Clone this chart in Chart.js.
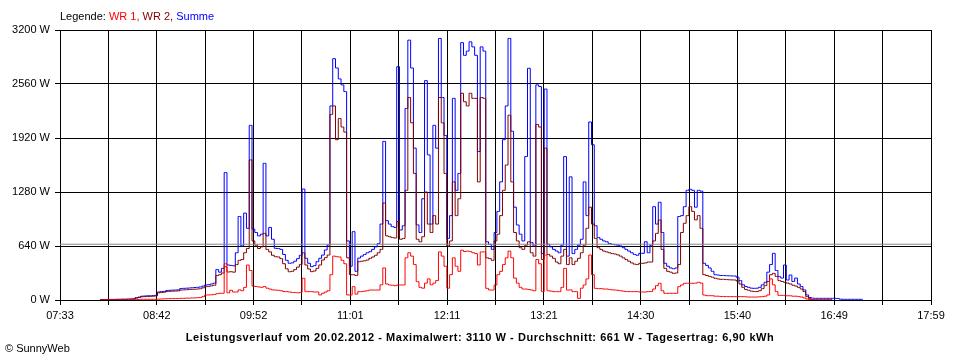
<!DOCTYPE html>
<html>
<head>
<meta charset="utf-8">
<script src="https://cdn.jsdelivr.net/npm/chart.js@4.4.1/dist/chart.umd.min.js"></script>
<style>
  body { margin: 0; background: #fff; }
  #wrap { position: relative; width: 960px; height: 360px; font-family: "Liberation Sans", Arial, sans-serif; font-size: 11px; line-height: 13px; color: #000; }
  #chart { display: block; }
  #legend { position: absolute; left: 60px; top: 10px; }
  #footer { position: absolute; left: 0; width: 960px; top: 331px; text-align: center; font-weight: bold; letter-spacing: 0.55px; }
  #copy { position: absolute; left: 5px; top: 342px; }
</style>
</head>
<body>
<div id="wrap">
  <canvas id="chart" width="960" height="360"></canvas>
  <div id="legend">Legende: <span style="color:#ff0000">WR 1,</span> <span style="color:#800000">WR 2,</span> <span style="color:#0000ff">Summe</span></div>
  <div id="footer">Leistungsverlauf vom 20.02.2012 - Maximalwert: 3110 W - Durchschnitt: 661 W - Tagesertrag: 6,90 kWh</div>
  <div id="copy">© SunnyWeb</div>
</div>
<script>
// samples every 2 minutes starting 08:00
const sampleStart = 480;
const sampleStep = 2;

const tickLabels = ["07:33", "08:42", "09:52", "11:01", "12:11", "13:21", "14:30", "15:40", "16:49", "17:59"];
const yTicks = [0, 640, 1280, 1920, 2560, 3200];
const averageW = 661;

// Summe (blue)
const summe = [
  null, 6, 6, 6, 7, 7, 7, 8, 8, 9, 9, 10, 11, 14, 28,
  35, 45, 47, 50, 50, 52, 55, 95, 100, 102, 112, 115, 117, 118, 120,
  135, 138, 140, 142, 145, 148, 150, 155, 165, 178, 182, 190, 200, 360, 330,
  375, 1510, 415, 410, 405, 560, 990, 640, 1030, 850, 2070, 840, 800, 760, 780,
  1620, 760, 860, 720, 612, 610, 600, 540, 470, 435, 440, 460, 490, 530, 1315,
  494, 435, 395, 407, 454, 494, 533, 593, 652, 2300, 2860, 2750, 2620, 2550, 2470,
  700, 400, 810, 340, 497, 520, 540, 560, 573, 600, 630, 670, 900, 1880, 940,
  900, 870, 860, 2765, 830, 880, 2270, 3080, 2750, 1800, 890, 800, 1200, 2600, 1720,
  900, 2070, 1800, 3100, 2400, 1950, 730, 1000, 2390, 1300, 1500, 3050, 2900, 2950, 3060,
  3000, 2900, 1760, 3000, 2950, 690, 660, 600, 800, 1050, 1400, 1900, 2300, 3100, 2000,
  1100, 889, 780, 700, 1700, 2746, 680, 640, 2550, 2530, 550, 2500, 660, 630, 600,
  580, 560, 650, 1700, 520, 1460, 550, 600, 650, 720, 1400, 1000, 2110, 1840, 880,
  740, 720, 700, 690, 670, 660, 655, 650, 640, 620, 600, 580, 560, 540, 530,
  553, 553, 691, 560, 650, 1106, 900, 1158, 800, 435, 400, 380, 370, 380, 990,
  1000, 1106, 1300, 1312, 1300, 1100, 1300, 1290, 435, 410, 380, 340, 300, 296, 290,
  290, 288, 287, 285, 284, 270, 230, 180, 160, 150, 140, 138, 140, 150, 180,
  210, 330, 420, 553, 350, 277, 260, 415, 237, 296, 220, 260, 190, 160, 120,
  60, 30, 22, 20, 20, 20, 20, 20, 20, 20, 20, 18, 10, 8, 8,
  8, 8, 8, 8, 8, 8
];

// WR 2 (dark red)
const wr2 = [
  null, 5, 5, 5, 6, 6, 6, 7, 7, 8, 8, 9, 10, 12, 22,
  30, 38, 40, 42, 43, 45, 48, 85, 88, 92, 100, 103, 105, 106, 108,
  118, 120, 122, 124, 126, 128, 130, 134, 145, 158, 162, 168, 175, 290, 300,
  320, 395, 332, 335, 330, 420, 470, 480, 560, 610, 1660, 700, 650, 610, 630,
  790, 600, 570, 530, 513, 510, 490, 430, 370, 335, 340, 360, 390, 420, 560,
  415, 367, 336, 344, 375, 415, 474, 502, 533, 2200, 2300, 1900, 2150, 2050, 1990,
  500, 300, 300, 290, 454, 460, 465, 474, 494, 510, 530, 560, 600, 1150, 760,
  750, 740, 735, 930, 720, 730, 1300, 2400, 2100, 1500, 720, 690, 750, 1280, 900,
  800, 1000, 900, 2400, 2100, 1500, 640, 700, 1400, 1000, 1200, 2450, 2350, 2300, 2450,
  2390, 2390, 1400, 2400, 2390, 500, 490, 470, 700, 780, 1000, 1300, 1600, 2190, 1400,
  800, 700, 620, 600, 650, 690, 560, 520, 2080, 2050, 480, 1800, 540, 520, 494,
  450, 430, 520, 600, 420, 500, 420, 460, 494, 560, 650, 850, 1100, 900, 730,
  620, 600, 580, 570, 560, 550, 545, 535, 520, 500, 480, 460, 440, 425, 420,
  435, 435, 440, 450, 450, 700, 790, 948, 600, 375, 340, 330, 316, 320, 420,
  800, 909, 1000, 1106, 1050, 950, 1000, 850, 300, 290, 280, 270, 257, 250, 245,
  245, 242, 240, 238, 237, 225, 190, 150, 125, 115, 105, 100, 100, 110, 135,
  170, 220, 300, 316, 280, 230, 220, 210, 200, 190, 175, 165, 150, 130, 100,
  40, 15, 5, 3, 2, 2, 2, 2, 2, 2
];

// WR 1 (red)
const wr1 = [
  null, 1, 1, 1, 1, 1, 1, 1, 2, 2, 2, 2, 2, 3, 5,
  6, 8, 8, 8, 8, 8, 8, 10, 12, 14, 15, 16, 16, 17, 18,
  20, 20, 22, 22, 25, 25, 27, 30, 40, 59, 60, 62, 65, 75, 79,
  80, 430, 85, 115, 95, 95, 120, 110, 150, 415, 350, 165, 160, 155, 150,
  160, 140, 130, 120, 118, 115, 110, 100, 99, 95, 90, 88, 85, 90, 257,
  99, 99, 99, 95, 95, 60, 80, 95, 110, 300, 520, 513, 510, 470, 430,
  60, 60, 158, 70, 99, 100, 105, 110, 118, 118, 118, 118, 180, 380, 190,
  178, 175, 170, 178, 178, 178, 500, 560, 520, 420, 217, 150, 140, 200, 250,
  180, 200, 230, 570, 520, 400, 140, 300, 500, 400, 340, 590, 575, 580, 573,
  560, 550, 415, 570, 570, 138, 118, 118, 178, 300, 340, 420, 500, 580, 500,
  260, 200, 150, 130, 130, 125, 118, 110, 480, 430, 99, 533, 110, 105, 99,
  99, 99, 150, 375, 118, 120, 99, 99, 20, 140, 178, 250, 533, 300, 138,
  135, 135, 130, 130, 125, 120, 118, 115, 110, 105, 100, 100, 99, 99, 99,
  95, 95, 95, 100, 100, 130, 170, 198, 110, 79, 79, 79, 79, 79, 158,
  178, 198, 198, 198, 198, 200, 210, 200, 59, 51, 51, 51, 45, 45, 42,
  42, 40, 40, 40, 40, 40, 40, 40, 38, 35, 35, 35, 35, 38, 40,
  45, 60, 250, 180, 100, 55, 55, 55, 50, 50, 45, 45, 40, 35, 25,
  12, 5, 2, 1, 1, 1, 1, 1, 1, 1
];

function toMinutes(s) {
  const [h, m] = s.split(":").map(Number);
  return h * 60 + m;
}

const xMin = toMinutes(tickLabels[0]);
const xMax = toMinutes(tickLabels[tickLabels.length - 1]);
// a grid line at each label and one halfway between
const gridCount = (tickLabels.length - 1) * 2;
const gridValues = [];
for (let k = 0; k <= gridCount; k++) gridValues.push(xMin + (xMax - xMin) * k / gridCount);

const points = arr => arr.map((v, i) => ({ x: sampleStart + i * sampleStep, y: v }));

Chart.defaults.font.family = '"Liberation Sans", Arial, sans-serif';
Chart.defaults.font.size = 11;
Chart.defaults.color = "#000";

const series = (label, values, color) => ({
  label: label,
  data: points(values),
  borderColor: color,
  borderWidth: 1,
  stepped: "middle",
  pointRadius: 0,
  spanGaps: false
});

new Chart(document.getElementById("chart"), {
  type: "line",
  data: {
    datasets: [
      {
        label: "Durchschnitt",
        data: [{ x: xMin, y: averageW }, { x: xMax, y: averageW }],
        borderColor: "#8a8a8a",
        borderWidth: 1,
        pointRadius: 0
      },
      series("WR 1", wr1, "#ff0000"),
      series("WR 2", wr2, "#800000"),
      series("Summe", summe, "#0000ff")
    ]
  },
  options: {
    responsive: false,
    animation: false,
    events: [],
    layout: { padding: { top: 30, right: 29, left: 0, bottom: 0 } },
    plugins: {
      legend: { display: false },
      tooltip: { enabled: false }
    },
    scales: {
      x: {
        type: "linear",
        min: xMin,
        max: xMax,
        afterBuildTicks: axis => { axis.ticks = gridValues.map(v => ({ value: v })); },
        afterFit: axis => { axis.height = 60; },
        grid: { color: "#000", lineWidth: 1, tickLength: 5 },
        border: { color: "#000" },
        ticks: {
          autoSkip: false,
          maxRotation: 0,
          padding: 4,
          callback: (v, i) => (i % 2 === 0 ? tickLabels[i / 2] : "")
        }
      },
      y: {
        min: 0,
        max: 3200,
        afterBuildTicks: axis => { axis.ticks = yTicks.map(v => ({ value: v })); },
        afterFit: axis => { axis.width = 60; },
        grid: { color: "#000", lineWidth: 1, tickLength: 5 },
        border: { color: "#000" },
        ticks: {
          padding: 5,
          callback: v => v + " W"
        }
      }
    }
  }
});
</script>
</body>
</html>
